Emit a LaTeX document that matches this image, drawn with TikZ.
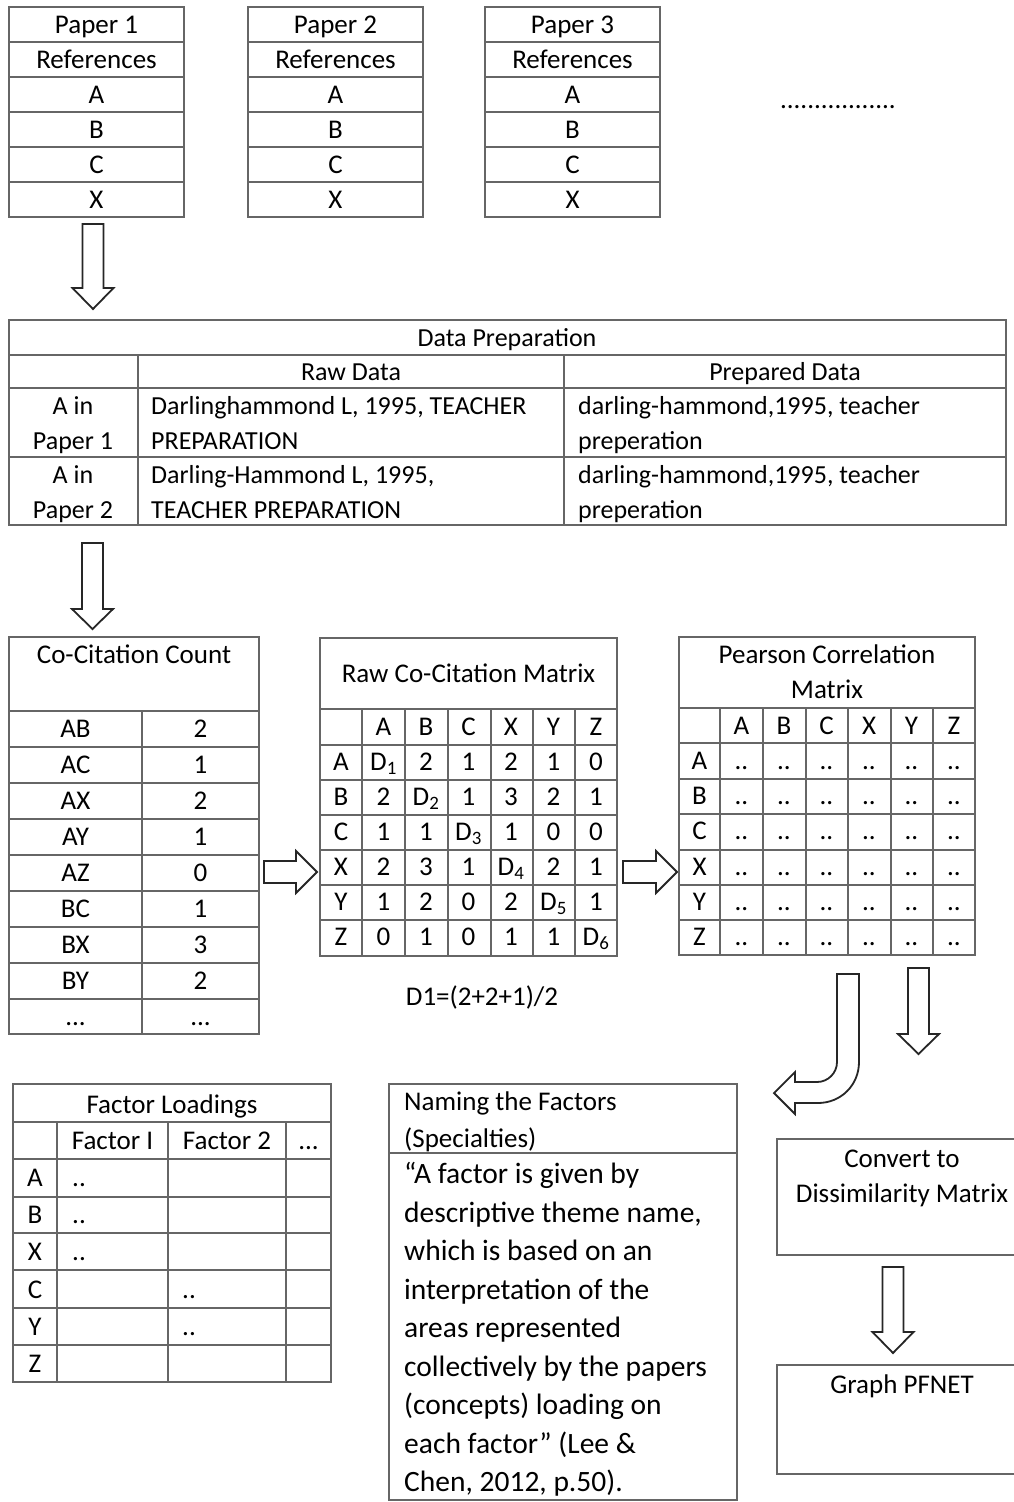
\documentclass[tikz,border=0pt]{standalone}
\usepackage{fontspec}
\setmainfont{Carlito}

\newcommand\dg[1]{D\textsubscript{#1}}
\newcommand\twodots{..}
\newcommand\threedots{...}
% hollow block arrows
\newcommand\downblock[4]{\draw[blockarrow] (#1-10.5,#2) -- (#1+10.5,#2) -- (#1+10.5,#3) -- (#1+20.5,#3) -- (#1,#4) -- (#1-20.5,#3) -- (#1-10.5,#3) -- cycle;}
\newcommand\rightblock[4]{\draw[blockarrow] (#2,#1-11) -- (#3,#1-11) -- (#3,#1-21) -- (#4,#1) -- (#3,#1+21) -- (#3,#1+11) -- (#2,#1+11) -- cycle;}

\begin{document}
\begin{tikzpicture}[x=1pt, y=-1pt,
    every node/.style={font=\fontsize{27}{35}\selectfont},
    grid/.style={draw=black!60, line width=1.3pt},
    cell/.style={inner sep=0pt, text height=17pt, text depth=0pt},
    lines/.style={inner sep=0pt, align=left, anchor=west,
      execute at begin node=\strut, execute at end node=\strut},
    blockarrow/.style={draw=black!85, line width=1.8pt, fill=white, line join=miter}]
  \clip (0,0) rectangle (1014,1502);
  \fill[white] (0,0) rectangle (1014,1502);

  % papers and their references
  \foreach \px/\pn in {9/1, 248/2, 485/3} {
    \draw[grid] (\px,7) rectangle ++(175,210);
    \foreach \ry in {42,77,112,147,182} \draw[grid] (\px,\ry) -- ++(175,0);
    \node[cell] (paper\pn) at (\px+87.5,24.5) {Paper \pn};
    \node[cell] (refs\pn) at (\px+87.5,59.5) {References};
    \foreach \lab [count=\k] in {A,B,C,X}
      \node[cell] (ref\pn\lab) at (\px+87.5,59.5+35*\k) {\lab};
  }
  \node[cell] (moredots) at (838,100) {.................};
  \downblock{93}{224}{288}{309}

  % data preparation
  \draw[grid] (9,320) rectangle (1006,525);
  \foreach \ry in {355,388,457} \draw[grid] (9,\ry) -- (1006,\ry);
  \draw[grid] (138,355) -- (138,525);
  \draw[grid] (564,355) -- (564,525);
  \node[cell, font=\fontsize{26}{35}\selectfont] (prep) at (507,338) {Data Preparation};
  \node[cell, font=\fontsize{26}{35}\selectfont] (rawhead) at (351,372) {Raw Data};
  \node[cell, font=\fontsize{26}{35}\selectfont] (prephead) at (785,372) {Prepared Data};
  \node[lines, align=center, anchor=center, font=\fontsize{26}{35}\selectfont] (inpaper1) at (73,428) {A in\\Paper 1};
  \node[lines, font=\fontsize{26}{35}\selectfont] (raw1) at (151,428) {Darlinghammond L, 1995, TEACHER\\PREPARATION};
  \node[lines, font=\fontsize{26}{35}\selectfont] (clean1) at (578,428) {darling-hammond,1995, teacher\\preperation};
  \node[lines, align=center, anchor=center, font=\fontsize{26}{35}\selectfont] (inpaper2) at (73,497) {A in\\Paper 2};
  \node[lines, font=\fontsize{26}{35}\selectfont] (raw2) at (151,497) {Darling-Hammond L, 1995,\\TEACHER PREPARATION};
  \node[lines, font=\fontsize{26}{35}\selectfont] (clean2) at (578,497) {darling-hammond,1995, teacher\\preperation};
  \downblock{92.5}{543}{609}{629}

  % co-citation count
  \draw[grid] (9,637) rectangle (259,1034);
  \foreach \ry in {711,747,783,819,855,891,927,963,999} \draw[grid] (9,\ry) -- (259,\ry);
  \draw[grid] (142,711) -- (142,1034);
  \node[cell] (cctitle) at (134,655) {Co-Citation Count};
  \foreach \pair/\cnt [count=\k] in {AB/2,AC/1,AX/2,AY/1,AZ/0,BC/1,BX/3,BY/2,\threedots/\threedots} {
    \node[cell] (pair\k) at (75.5,693+36*\k) {\pair};
    \node[cell] (cnt\k) at (200.5,693+36*\k) {\cnt};
  }
  \rightblock{872}{264}{296}{317}

  % raw co-citation matrix
  \draw[grid] (320,638) rectangle (617,956);
  \foreach \cx in {362,405,448,491,533,575} \draw[grid] (\cx,709) -- (\cx,956);
  \foreach \ry in {709,745,780,815,850,885,920} \draw[grid] (320,\ry) -- (617,\ry);
  \node[cell] (rawtitle) at (468.5,674) {Raw Co-Citation Matrix};
  \foreach \h [count=\k] in {A,B,C,X,Y,Z}
    \node[cell] (rawcol\h) at (341+42.5*\k,727) {\h};
  \foreach \rl/\va/\vb/\vc/\vd/\ve/\vf [count=\i] in {A/\dg1/2/1/2/1/0, B/2/\dg2/1/3/2/1,
      C/1/1/\dg3/1/0/0, X/2/3/1/\dg4/2/1, Y/1/2/0/2/\dg5/1, Z/0/1/0/1/1/\dg6} {
    \node[cell] (rawrow\rl) at (341,727+35*\i) {\rl};
    \foreach \v [count=\j] in {\va,\vb,\vc,\vd,\ve,\vf}
      \node[cell] (raw\rl\j) at (341+42.5*\j,727+35*\i) {\v};
  }
  \node[cell] (dformula) at (482,997) {D1=(2+2+1)/2};
  \rightblock{872}{623}{656}{677}

  % pearson correlation matrix
  \draw[grid] (679,637) rectangle (975,955);
  \foreach \cx in {720,763,806,848,891,933} \draw[grid] (\cx,708) -- (\cx,955);
  \foreach \ry in {708,743,779,814,850,885,920} \draw[grid] (679,\ry) -- (975,\ry);
  \node[lines, align=center, anchor=center] (pearsontitle) at (827,677) {Pearson Correlation\\Matrix};
  \foreach \h [count=\k] in {A,B,C,X,Y,Z} {
    \node[cell] (pcol\h) at (699+42.5*\k,725.5) {\h};
    \node[cell] (prow\h) at (699.5,725.5+35.3*\k) {\h};
    \foreach \j in {1,...,6}
      \node[cell] (pc\h\j) at (699+42.5*\j,725.5+35.3*\k) {\twodots};
  }
  \downblock{918.5}{968}{1034}{1054}
  \draw[blockarrow] (837,974) -- (859,974) -- (859,1062)
    .. controls (859,1085) and (841,1103) .. (818,1103) -- (795,1103) -- (795,1114)
    -- (774,1093) -- (795,1072) -- (795,1082) -- (817,1082)
    .. controls (828,1082) and (837,1073) .. (837,1062) -- cycle;

  % factor loadings
  \draw[grid] (13,1084) rectangle (331,1382);
  \foreach \ry in {1122,1159,1197,1233,1270,1308,1345} \draw[grid] (13,\ry) -- (331,\ry);
  \foreach \cx in {57,168,286} \draw[grid] (\cx,1122) -- (\cx,1382);
  \node[cell] (loadtitle) at (172,1105) {Factor Loadings};
  \node[cell] (fac1) at (112.5,1141) {Factor I};
  \node[cell] (fac2) at (227,1141) {Factor 2};
  \node[cell] (facmore) at (308.5,1141) {\threedots};
  \foreach \h [count=\k] in {A,B,X,C,Y,Z}
    \node[cell] (lrow\h) at (35,1140.8+37.2*\k) {\h};
  \foreach \h/\cx/\k in {A/72/1,B/72/2,X/72/3,C/182/4,Y/182/5}
    \node[cell, anchor=west] (load\h) at (\cx,1140.8+37.2*\k) {\twodots};

  % naming the factors
  \draw[grid] (389,1084) rectangle (737,1500);
  \draw[grid] (389,1153) -- (737,1153);
  \node[lines, font=\fontsize{27}{37}\selectfont] (namehead) at (404,1125.5) {Naming the Factors\\(Specialties)};
  \node[lines, font=\fontsize{29.5}{38.5}\selectfont] (namequote) at (404,1333) {“A factor is given by\\descriptive theme name,\\which is based on an\\interpretation of the\\areas represented\\collectively by the papers\\(concepts) loading on\\each factor” (Lee \&\\Chen, 2012, p.50).};

  % dissimilarity and pfnet
  \draw[grid] (777,1139) rectangle (1020,1255);
  \node[lines, align=center, anchor=center] (convert) at (902,1181) {Convert to\\Dissimilarity Matrix};
  \downblock{893}{1267}{1332}{1353}
  \draw[grid] (777,1365) rectangle (1020,1474);
  \node[cell] (pfnet) at (902,1385) {Graph PFNET};
\end{tikzpicture}
\end{document}
